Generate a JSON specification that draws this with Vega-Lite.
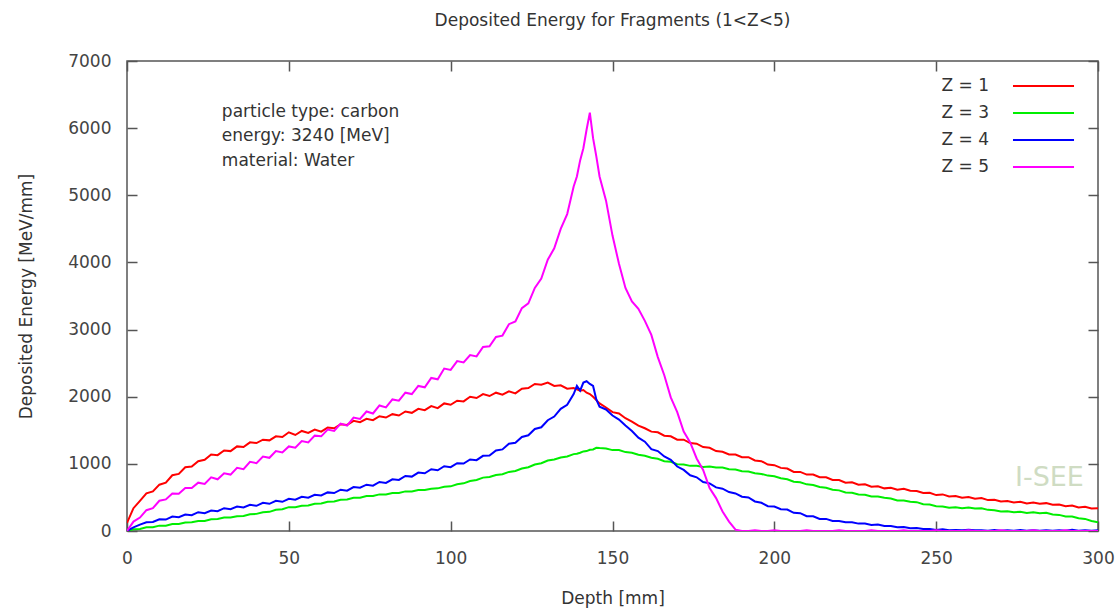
{
  "$schema": "https://vega.github.io/schema/vega-lite/v6.json",
  "width": 971,
  "height": 470,
  "autosize": "none",
  "padding": {"left": 127, "top": 61, "right": 22, "bottom": 79},
  "background": "white",
  "config": {
    "font": "DejaVu Sans",
    "view": {"stroke": "#555555", "strokeWidth": 1.5}
  },
  "title": {
    "text": "Deposited Energy for Fragments (1<Z<5)",
    "fontSize": 17,
    "fontWeight": "normal",
    "color": "#333333",
    "offset": 22,
    "anchor": "middle"
  },
  "data": {
    "values": [
      {"d": 0, "Z = 1": 120, "Z = 3": 0, "Z = 4": 0, "Z = 5": 0},
      {"d": 2, "Z = 1": 340, "Z = 3": 25, "Z = 4": 55, "Z = 5": 140},
      {"d": 4, "Z = 1": 450, "Z = 3": 30, "Z = 4": 95, "Z = 5": 200},
      {"d": 6, "Z = 1": 560, "Z = 3": 55, "Z = 4": 130, "Z = 5": 310},
      {"d": 8, "Z = 1": 590, "Z = 3": 55, "Z = 4": 135, "Z = 5": 340},
      {"d": 10, "Z = 1": 690, "Z = 3": 80, "Z = 4": 175, "Z = 5": 450},
      {"d": 12, "Z = 1": 720, "Z = 3": 80, "Z = 4": 170, "Z = 5": 470},
      {"d": 14, "Z = 1": 830, "Z = 3": 105, "Z = 4": 215, "Z = 5": 560},
      {"d": 16, "Z = 1": 850, "Z = 3": 105, "Z = 4": 205, "Z = 5": 555},
      {"d": 18, "Z = 1": 950, "Z = 3": 125, "Z = 4": 245, "Z = 5": 640},
      {"d": 20, "Z = 1": 960, "Z = 3": 130, "Z = 4": 235, "Z = 5": 640},
      {"d": 22, "Z = 1": 1040, "Z = 3": 150, "Z = 4": 280, "Z = 5": 720},
      {"d": 24, "Z = 1": 1060, "Z = 3": 150, "Z = 4": 265, "Z = 5": 700},
      {"d": 26, "Z = 1": 1140, "Z = 3": 175, "Z = 4": 305, "Z = 5": 800},
      {"d": 28, "Z = 1": 1130, "Z = 3": 180, "Z = 4": 295, "Z = 5": 770},
      {"d": 30, "Z = 1": 1200, "Z = 3": 200, "Z = 4": 340, "Z = 5": 860},
      {"d": 32, "Z = 1": 1190, "Z = 3": 200, "Z = 4": 325, "Z = 5": 840},
      {"d": 34, "Z = 1": 1260, "Z = 3": 220, "Z = 4": 365, "Z = 5": 940},
      {"d": 36, "Z = 1": 1250, "Z = 3": 225, "Z = 4": 350, "Z = 5": 920},
      {"d": 38, "Z = 1": 1320, "Z = 3": 250, "Z = 4": 390, "Z = 5": 1030},
      {"d": 40, "Z = 1": 1310, "Z = 3": 255, "Z = 4": 375, "Z = 5": 1010},
      {"d": 42, "Z = 1": 1360, "Z = 3": 280, "Z = 4": 420, "Z = 5": 1110},
      {"d": 44, "Z = 1": 1350, "Z = 3": 285, "Z = 4": 405, "Z = 5": 1090},
      {"d": 46, "Z = 1": 1410, "Z = 3": 315, "Z = 4": 450, "Z = 5": 1190},
      {"d": 48, "Z = 1": 1400, "Z = 3": 325, "Z = 4": 435, "Z = 5": 1170},
      {"d": 50, "Z = 1": 1470, "Z = 3": 355, "Z = 4": 480, "Z = 5": 1260},
      {"d": 52, "Z = 1": 1430, "Z = 3": 355, "Z = 4": 465, "Z = 5": 1240},
      {"d": 54, "Z = 1": 1490, "Z = 3": 375, "Z = 4": 510, "Z = 5": 1340},
      {"d": 56, "Z = 1": 1460, "Z = 3": 380, "Z = 4": 495, "Z = 5": 1320},
      {"d": 58, "Z = 1": 1510, "Z = 3": 405, "Z = 4": 540, "Z = 5": 1420},
      {"d": 60, "Z = 1": 1480, "Z = 3": 410, "Z = 4": 530, "Z = 5": 1410},
      {"d": 62, "Z = 1": 1540, "Z = 3": 435, "Z = 4": 575, "Z = 5": 1510},
      {"d": 64, "Z = 1": 1530, "Z = 3": 440, "Z = 4": 565, "Z = 5": 1490},
      {"d": 66, "Z = 1": 1590, "Z = 3": 465, "Z = 4": 615, "Z = 5": 1600},
      {"d": 68, "Z = 1": 1580, "Z = 3": 470, "Z = 4": 600, "Z = 5": 1570},
      {"d": 70, "Z = 1": 1640, "Z = 3": 495, "Z = 4": 655, "Z = 5": 1690},
      {"d": 72, "Z = 1": 1620, "Z = 3": 495, "Z = 4": 645, "Z = 5": 1670},
      {"d": 74, "Z = 1": 1670, "Z = 3": 520, "Z = 4": 690, "Z = 5": 1780},
      {"d": 76, "Z = 1": 1650, "Z = 3": 520, "Z = 4": 675, "Z = 5": 1750},
      {"d": 78, "Z = 1": 1710, "Z = 3": 545, "Z = 4": 730, "Z = 5": 1870},
      {"d": 80, "Z = 1": 1690, "Z = 3": 545, "Z = 4": 715, "Z = 5": 1840},
      {"d": 82, "Z = 1": 1740, "Z = 3": 565, "Z = 4": 770, "Z = 5": 1960},
      {"d": 84, "Z = 1": 1720, "Z = 3": 565, "Z = 4": 760, "Z = 5": 1940},
      {"d": 86, "Z = 1": 1780, "Z = 3": 590, "Z = 4": 820, "Z = 5": 2060},
      {"d": 88, "Z = 1": 1760, "Z = 3": 590, "Z = 4": 810, "Z = 5": 2040},
      {"d": 90, "Z = 1": 1820, "Z = 3": 610, "Z = 4": 870, "Z = 5": 2160},
      {"d": 92, "Z = 1": 1800, "Z = 3": 610, "Z = 4": 860, "Z = 5": 2140},
      {"d": 94, "Z = 1": 1860, "Z = 3": 630, "Z = 4": 920, "Z = 5": 2280},
      {"d": 96, "Z = 1": 1830, "Z = 3": 635, "Z = 4": 905, "Z = 5": 2260},
      {"d": 98, "Z = 1": 1900, "Z = 3": 660, "Z = 4": 965, "Z = 5": 2420},
      {"d": 100, "Z = 1": 1880, "Z = 3": 665, "Z = 4": 950, "Z = 5": 2400},
      {"d": 102, "Z = 1": 1940, "Z = 3": 695, "Z = 4": 1010, "Z = 5": 2530},
      {"d": 104, "Z = 1": 1930, "Z = 3": 710, "Z = 4": 1005, "Z = 5": 2510},
      {"d": 106, "Z = 1": 2000, "Z = 3": 745, "Z = 4": 1065, "Z = 5": 2620},
      {"d": 108, "Z = 1": 1980, "Z = 3": 760, "Z = 4": 1055, "Z = 5": 2600},
      {"d": 110, "Z = 1": 2040, "Z = 3": 795, "Z = 4": 1120, "Z = 5": 2740},
      {"d": 112, "Z = 1": 2010, "Z = 3": 805, "Z = 4": 1125, "Z = 5": 2750},
      {"d": 114, "Z = 1": 2060, "Z = 3": 835, "Z = 4": 1200, "Z = 5": 2890},
      {"d": 116, "Z = 1": 2030, "Z = 3": 845, "Z = 4": 1215, "Z = 5": 2910},
      {"d": 118, "Z = 1": 2080, "Z = 3": 880, "Z = 4": 1300, "Z = 5": 3080},
      {"d": 120, "Z = 1": 2050, "Z = 3": 895, "Z = 4": 1315, "Z = 5": 3120},
      {"d": 122, "Z = 1": 2120, "Z = 3": 930, "Z = 4": 1400, "Z = 5": 3320},
      {"d": 124, "Z = 1": 2130, "Z = 3": 950, "Z = 4": 1425, "Z = 5": 3390},
      {"d": 126, "Z = 1": 2190, "Z = 3": 990, "Z = 4": 1520, "Z = 5": 3620},
      {"d": 128, "Z = 1": 2180, "Z = 3": 1010, "Z = 4": 1545, "Z = 5": 3760},
      {"d": 130, "Z = 1": 2210, "Z = 3": 1050, "Z = 4": 1650, "Z = 5": 4040},
      {"d": 132, "Z = 1": 2160, "Z = 3": 1065, "Z = 4": 1705, "Z = 5": 4210},
      {"d": 134, "Z = 1": 2170, "Z = 3": 1095, "Z = 4": 1820, "Z = 5": 4500},
      {"d": 136, "Z = 1": 2120, "Z = 3": 1110, "Z = 4": 1880, "Z = 5": 4720},
      {"d": 138, "Z = 1": 2130, "Z = 3": 1145, "Z = 4": 2040, "Z = 5": 5130},
      {"d": 139, "Z = 1": 2110, "Z = 3": 1150, "Z = 4": 2160, "Z = 5": 5280},
      {"d": 140, "Z = 1": 2090, "Z = 3": 1165, "Z = 4": 2090, "Z = 5": 5520},
      {"d": 141, "Z = 1": 2100, "Z = 3": 1185, "Z = 4": 2210, "Z = 5": 5700},
      {"d": 142, "Z = 1": 2060, "Z = 3": 1190, "Z = 4": 2230, "Z = 5": 5980},
      {"d": 143, "Z = 1": 2040, "Z = 3": 1210, "Z = 4": 2190, "Z = 5": 6230},
      {"d": 144, "Z = 1": 2000, "Z = 3": 1215, "Z = 4": 2160, "Z = 5": 5850},
      {"d": 145, "Z = 1": 1950, "Z = 3": 1240, "Z = 4": 1960, "Z = 5": 5580},
      {"d": 146, "Z = 1": 1900, "Z = 3": 1235, "Z = 4": 1850, "Z = 5": 5280},
      {"d": 148, "Z = 1": 1840, "Z = 3": 1230, "Z = 4": 1810, "Z = 5": 4920},
      {"d": 150, "Z = 1": 1770, "Z = 3": 1205, "Z = 4": 1720, "Z = 5": 4400},
      {"d": 152, "Z = 1": 1750, "Z = 3": 1205, "Z = 4": 1660, "Z = 5": 3980},
      {"d": 154, "Z = 1": 1680, "Z = 3": 1175, "Z = 4": 1570, "Z = 5": 3620},
      {"d": 156, "Z = 1": 1630, "Z = 3": 1165, "Z = 4": 1490, "Z = 5": 3420},
      {"d": 158, "Z = 1": 1570, "Z = 3": 1135, "Z = 4": 1390, "Z = 5": 3310},
      {"d": 160, "Z = 1": 1530, "Z = 3": 1120, "Z = 4": 1330, "Z = 5": 3130},
      {"d": 162, "Z = 1": 1480, "Z = 3": 1090, "Z = 4": 1220, "Z = 5": 2920},
      {"d": 164, "Z = 1": 1470, "Z = 3": 1075, "Z = 4": 1190, "Z = 5": 2590},
      {"d": 166, "Z = 1": 1420, "Z = 3": 1040, "Z = 4": 1110, "Z = 5": 2320},
      {"d": 168, "Z = 1": 1410, "Z = 3": 1030, "Z = 4": 1060, "Z = 5": 1990},
      {"d": 170, "Z = 1": 1360, "Z = 3": 995, "Z = 4": 960, "Z = 5": 1770},
      {"d": 172, "Z = 1": 1360, "Z = 3": 990, "Z = 4": 910, "Z = 5": 1480},
      {"d": 174, "Z = 1": 1310, "Z = 3": 970, "Z = 4": 830, "Z = 5": 1320},
      {"d": 176, "Z = 1": 1300, "Z = 3": 970, "Z = 4": 800, "Z = 5": 1080},
      {"d": 178, "Z = 1": 1250, "Z = 3": 955, "Z = 4": 730, "Z = 5": 910},
      {"d": 180, "Z = 1": 1240, "Z = 3": 960, "Z = 4": 710, "Z = 5": 640},
      {"d": 182, "Z = 1": 1190, "Z = 3": 945, "Z = 4": 650, "Z = 5": 490},
      {"d": 184, "Z = 1": 1180, "Z = 3": 945, "Z = 4": 630, "Z = 5": 290},
      {"d": 186, "Z = 1": 1140, "Z = 3": 920, "Z = 4": 580, "Z = 5": 140},
      {"d": 188, "Z = 1": 1140, "Z = 3": 915, "Z = 4": 560, "Z = 5": 20},
      {"d": 190, "Z = 1": 1100, "Z = 3": 890, "Z = 4": 510, "Z = 5": 0},
      {"d": 192, "Z = 1": 1100, "Z = 3": 885, "Z = 4": 500, "Z = 5": 0},
      {"d": 194, "Z = 1": 1050, "Z = 3": 860, "Z = 4": 440, "Z = 5": 10},
      {"d": 196, "Z = 1": 1040, "Z = 3": 850, "Z = 4": 420, "Z = 5": 0},
      {"d": 198, "Z = 1": 990, "Z = 3": 825, "Z = 4": 370, "Z = 5": 0},
      {"d": 200, "Z = 1": 980, "Z = 3": 815, "Z = 4": 365, "Z = 5": 10},
      {"d": 202, "Z = 1": 940, "Z = 3": 785, "Z = 4": 325, "Z = 5": 0},
      {"d": 204, "Z = 1": 930, "Z = 3": 770, "Z = 4": 320, "Z = 5": 0},
      {"d": 206, "Z = 1": 880, "Z = 3": 735, "Z = 4": 270, "Z = 5": 0},
      {"d": 208, "Z = 1": 880, "Z = 3": 725, "Z = 4": 265, "Z = 5": 0},
      {"d": 210, "Z = 1": 840, "Z = 3": 695, "Z = 4": 220, "Z = 5": 10},
      {"d": 212, "Z = 1": 840, "Z = 3": 685, "Z = 4": 220, "Z = 5": 0},
      {"d": 214, "Z = 1": 800, "Z = 3": 655, "Z = 4": 180, "Z = 5": 0},
      {"d": 216, "Z = 1": 800, "Z = 3": 645, "Z = 4": 180, "Z = 5": 0},
      {"d": 218, "Z = 1": 760, "Z = 3": 615, "Z = 4": 150, "Z = 5": 0},
      {"d": 220, "Z = 1": 760, "Z = 3": 605, "Z = 4": 150, "Z = 5": 10},
      {"d": 222, "Z = 1": 720, "Z = 3": 575, "Z = 4": 130, "Z = 5": 0},
      {"d": 224, "Z = 1": 725, "Z = 3": 570, "Z = 4": 130, "Z = 5": 0},
      {"d": 226, "Z = 1": 690, "Z = 3": 545, "Z = 4": 110, "Z = 5": 0},
      {"d": 228, "Z = 1": 695, "Z = 3": 540, "Z = 4": 110, "Z = 5": 0},
      {"d": 230, "Z = 1": 660, "Z = 3": 515, "Z = 4": 90, "Z = 5": 10},
      {"d": 232, "Z = 1": 665, "Z = 3": 515, "Z = 4": 95, "Z = 5": 0},
      {"d": 234, "Z = 1": 635, "Z = 3": 495, "Z = 4": 75, "Z = 5": 0},
      {"d": 236, "Z = 1": 645, "Z = 3": 485, "Z = 4": 75, "Z = 5": 0},
      {"d": 238, "Z = 1": 615, "Z = 3": 455, "Z = 4": 55, "Z = 5": 0},
      {"d": 240, "Z = 1": 630, "Z = 3": 455, "Z = 4": 60, "Z = 5": 10},
      {"d": 242, "Z = 1": 600, "Z = 3": 435, "Z = 4": 40, "Z = 5": 0},
      {"d": 244, "Z = 1": 595, "Z = 3": 430, "Z = 4": 45, "Z = 5": 0},
      {"d": 246, "Z = 1": 565, "Z = 3": 400, "Z = 4": 30, "Z = 5": 0},
      {"d": 248, "Z = 1": 570, "Z = 3": 395, "Z = 4": 30, "Z = 5": 0},
      {"d": 250, "Z = 1": 535, "Z = 3": 370, "Z = 4": 15, "Z = 5": 10},
      {"d": 252, "Z = 1": 545, "Z = 3": 365, "Z = 4": 25, "Z = 5": 0},
      {"d": 254, "Z = 1": 515, "Z = 3": 345, "Z = 4": 10, "Z = 5": 0},
      {"d": 256, "Z = 1": 520, "Z = 3": 355, "Z = 4": 15, "Z = 5": 0},
      {"d": 258, "Z = 1": 495, "Z = 3": 340, "Z = 4": 10, "Z = 5": 0},
      {"d": 260, "Z = 1": 505, "Z = 3": 350, "Z = 4": 20, "Z = 5": 10},
      {"d": 262, "Z = 1": 480, "Z = 3": 335, "Z = 4": 10, "Z = 5": 0},
      {"d": 264, "Z = 1": 490, "Z = 3": 340, "Z = 4": 10, "Z = 5": 0},
      {"d": 266, "Z = 1": 460, "Z = 3": 315, "Z = 4": 5, "Z = 5": 0},
      {"d": 268, "Z = 1": 465, "Z = 3": 310, "Z = 4": 15, "Z = 5": 0},
      {"d": 270, "Z = 1": 440, "Z = 3": 290, "Z = 4": 5, "Z = 5": 10},
      {"d": 272, "Z = 1": 445, "Z = 3": 295, "Z = 4": 10, "Z = 5": 0},
      {"d": 274, "Z = 1": 425, "Z = 3": 280, "Z = 4": 5, "Z = 5": 0},
      {"d": 276, "Z = 1": 435, "Z = 3": 285, "Z = 4": 15, "Z = 5": 0},
      {"d": 278, "Z = 1": 410, "Z = 3": 270, "Z = 4": 5, "Z = 5": 0},
      {"d": 280, "Z = 1": 425, "Z = 3": 280, "Z = 4": 10, "Z = 5": 10},
      {"d": 282, "Z = 1": 405, "Z = 3": 265, "Z = 4": 5, "Z = 5": 0},
      {"d": 284, "Z = 1": 415, "Z = 3": 270, "Z = 4": 10, "Z = 5": 0},
      {"d": 286, "Z = 1": 390, "Z = 3": 245, "Z = 4": 5, "Z = 5": 0},
      {"d": 288, "Z = 1": 395, "Z = 3": 240, "Z = 4": 10, "Z = 5": 0},
      {"d": 290, "Z = 1": 370, "Z = 3": 215, "Z = 4": 5, "Z = 5": 10},
      {"d": 292, "Z = 1": 380, "Z = 3": 215, "Z = 4": 20, "Z = 5": 0},
      {"d": 294, "Z = 1": 350, "Z = 3": 190, "Z = 4": 5, "Z = 5": 0},
      {"d": 296, "Z = 1": 360, "Z = 3": 180, "Z = 4": 10, "Z = 5": 0},
      {"d": 298, "Z = 1": 335, "Z = 3": 150, "Z = 4": 5, "Z = 5": 0},
      {"d": 300, "Z = 1": 340, "Z = 3": 130, "Z = 4": 10, "Z = 5": 0}
    ]
  },
  "layer": [
    {
      "transform": [
        {"fold": ["Z = 1", "Z = 3", "Z = 4", "Z = 5"], "as": ["series", "energy"]}
      ],
      "mark": {"type": "line", "strokeWidth": 2, "clip": true},
      "encoding": {
        "x": {
          "field": "d",
          "type": "quantitative",
          "scale": {"domain": [0, 300], "nice": false, "zero": false},
          "axis": {
            "orient": "bottom",
            "values": [0, 50, 100, 150, 200, 250, 300],
            "format": "d",
            "ticks": false,
            "domain": false,
            "grid": true,
            "gridColor": "#555555",
            "gridWidth": 1.5,
            "gridOpacity": 1,
            "gridDash": [10, 2000],
            "labelFontSize": 17,
            "labelColor": "#444444",
            "labelPadding": 19,
            "labelFlush": false,
            "title": "Depth [mm]",
            "titleFontSize": 17,
            "titleFontWeight": "normal",
            "titleColor": "#333333",
            "titlePadding": 24
          }
        },
        "y": {
          "field": "energy",
          "type": "quantitative",
          "scale": {"domain": [0, 7000], "nice": false},
          "axis": {
            "orient": "left",
            "values": [0, 1000, 2000, 3000, 4000, 5000, 6000, 7000],
            "format": "d",
            "ticks": false,
            "domain": false,
            "grid": true,
            "gridColor": "#555555",
            "gridWidth": 1.5,
            "gridOpacity": 1,
            "gridDash": [10, 2000],
            "labelFontSize": 17,
            "labelColor": "#444444",
            "labelPadding": 16,
            "labelFlush": false,
            "title": "Deposited Energy [MeV/mm]",
            "titleFontSize": 17,
            "titleFontWeight": "normal",
            "titleColor": "#333333",
            "titlePadding": 32
          }
        },
        "color": {
          "field": "series",
          "type": "nominal",
          "scale": {
            "domain": ["Z = 1", "Z = 3", "Z = 4", "Z = 5"],
            "range": ["#ff0000", "#00ee00", "#0000ff", "#ff00ff"]
          },
          "legend": {
            "orient": "none",
            "legendX": 907,
            "legendY": 15.5,
            "title": null,
            "symbolType": "M-3.59,0H3.59",
            "symbolSize": 289,
            "symbolStrokeWidth": 2,
            "labelFontSize": 17,
            "labelColor": "#333333",
            "labelAlign": "right",
            "labelOffset": -64,
            "rowPadding": 9,
            "padding": 0
          }
        }
      }
    },
    {
      "data": {"values": [{"note": "info"}]},
      "mark": {
        "type": "text",
        "align": "left",
        "baseline": "alphabetic",
        "fontSize": 17,
        "lineHeight": 24.5,
        "color": "#333333"
      },
      "encoding": {
        "x": {
          "datum": 29.3,
          "type": "quantitative",
          "axis": {
            "orient": "top",
            "values": [0, 50, 100, 150, 200, 250, 300],
            "ticks": false,
            "domain": false,
            "grid": true,
            "gridColor": "#555555",
            "gridWidth": 1.5,
            "gridOpacity": 1,
            "gridDash": [10, 2000],
            "labels": false,
            "title": null
          }
        },
        "y": {
          "datum": 6170,
          "type": "quantitative",
          "axis": {
            "orient": "right",
            "values": [0, 1000, 2000, 3000, 4000, 5000, 6000, 7000],
            "ticks": false,
            "domain": false,
            "grid": true,
            "gridColor": "#555555",
            "gridWidth": 1.5,
            "gridOpacity": 1,
            "gridDash": [10, 2000],
            "labels": false,
            "title": null
          }
        },
        "text": {"value": ["particle type: carbon", "energy: 3240 [MeV]", "material: Water"]}
      }
    },
    {
      "data": {"values": [{"mark": "I-SEE"}]},
      "mark": {
        "type": "text",
        "align": "center",
        "baseline": "middle",
        "fontSize": 27,
        "color": "#cfdcc3"
      },
      "encoding": {
        "x": {"datum": 285, "type": "quantitative", "axis": null},
        "y": {"datum": 790, "type": "quantitative", "axis": null},
        "text": {"field": "mark"}
      }
    }
  ],
  "resolve": {"axis": {"x": "independent", "y": "independent"}}
}
